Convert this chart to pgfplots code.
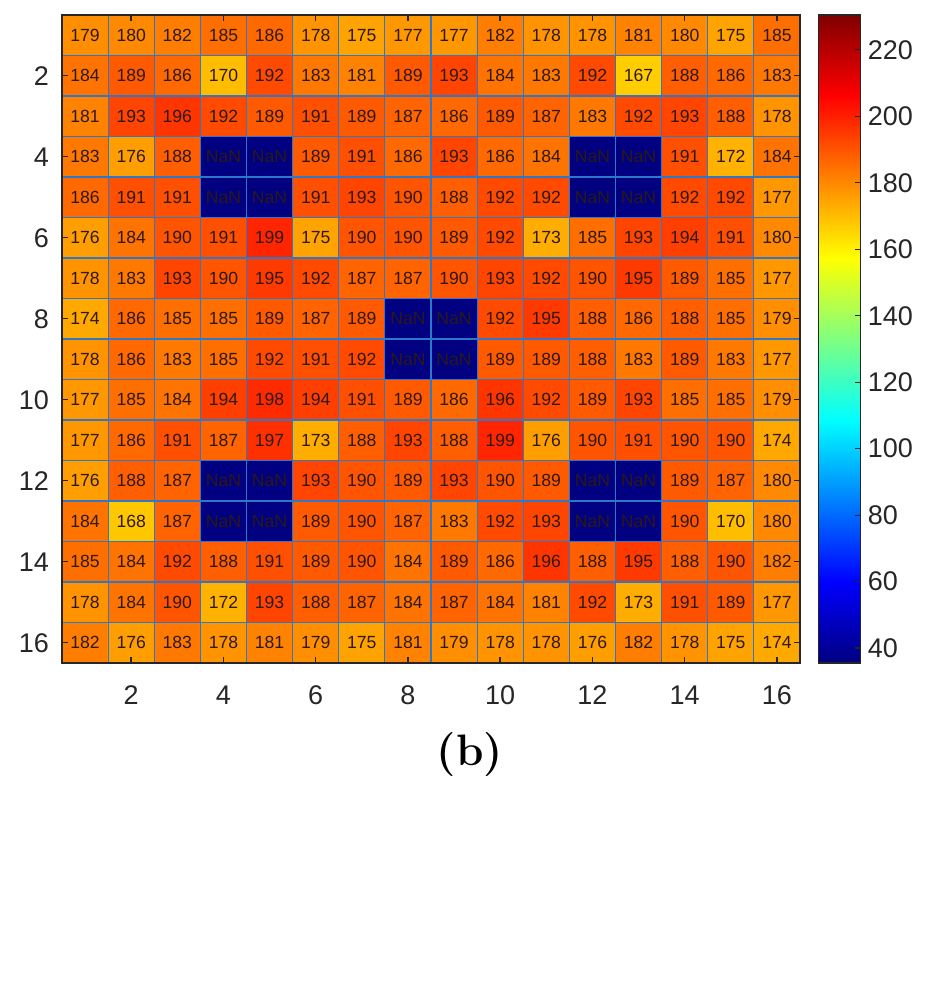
\documentclass[border=0pt]{standalone}
\usepackage{pgfplots}
\pgfplotsset{compat=1.18}
\usepackage{pgfplotstable}
\usepackage{fontspec}
\setsansfont{Liberation Sans}

\definecolor{celledge}{RGB}{45,120,200}
\definecolor{axisgray}{RGB}{38,38,38}
\definecolor{celltext}{RGB}{45,25,20}

% 16 x 16 grid: column x, row y, colour value c, printed text t.
% Missing cells (NaN) sit at the bottom of the colour scale.
\pgfplotstableread[row sep=\\]{
x y c t \\
1 1 179 179 \\ 2 1 180 180 \\ 3 1 182 182 \\ 4 1 185 185 \\ 5 1 186 186 \\ 6 1 178 178 \\ 7 1 175 175 \\ 8 1 177 177 \\ 9 1 177 177 \\ 10 1 182 182 \\ 11 1 178 178 \\ 12 1 178 178 \\ 13 1 181 181 \\ 14 1 180 180 \\ 15 1 175 175 \\ 16 1 185 185 \\
1 2 184 184 \\ 2 2 189 189 \\ 3 2 186 186 \\ 4 2 170 170 \\ 5 2 192 192 \\ 6 2 183 183 \\ 7 2 181 181 \\ 8 2 189 189 \\ 9 2 193 193 \\ 10 2 184 184 \\ 11 2 183 183 \\ 12 2 192 192 \\ 13 2 167 167 \\ 14 2 188 188 \\ 15 2 186 186 \\ 16 2 183 183 \\
1 3 181 181 \\ 2 3 193 193 \\ 3 3 196 196 \\ 4 3 192 192 \\ 5 3 189 189 \\ 6 3 191 191 \\ 7 3 189 189 \\ 8 3 187 187 \\ 9 3 186 186 \\ 10 3 189 189 \\ 11 3 187 187 \\ 12 3 183 183 \\ 13 3 192 192 \\ 14 3 193 193 \\ 15 3 188 188 \\ 16 3 178 178 \\
1 4 183 183 \\ 2 4 176 176 \\ 3 4 188 188 \\ 4 4 35.5 NaN \\ 5 4 35.5 NaN \\ 6 4 189 189 \\ 7 4 191 191 \\ 8 4 186 186 \\ 9 4 193 193 \\ 10 4 186 186 \\ 11 4 184 184 \\ 12 4 35.5 NaN \\ 13 4 35.5 NaN \\ 14 4 191 191 \\ 15 4 172 172 \\ 16 4 184 184 \\
1 5 186 186 \\ 2 5 191 191 \\ 3 5 191 191 \\ 4 5 35.5 NaN \\ 5 5 35.5 NaN \\ 6 5 191 191 \\ 7 5 193 193 \\ 8 5 190 190 \\ 9 5 188 188 \\ 10 5 192 192 \\ 11 5 192 192 \\ 12 5 35.5 NaN \\ 13 5 35.5 NaN \\ 14 5 192 192 \\ 15 5 192 192 \\ 16 5 177 177 \\
1 6 176 176 \\ 2 6 184 184 \\ 3 6 190 190 \\ 4 6 191 191 \\ 5 6 199 199 \\ 6 6 175 175 \\ 7 6 190 190 \\ 8 6 190 190 \\ 9 6 189 189 \\ 10 6 192 192 \\ 11 6 173 173 \\ 12 6 185 185 \\ 13 6 193 193 \\ 14 6 194 194 \\ 15 6 191 191 \\ 16 6 180 180 \\
1 7 178 178 \\ 2 7 183 183 \\ 3 7 193 193 \\ 4 7 190 190 \\ 5 7 195 195 \\ 6 7 192 192 \\ 7 7 187 187 \\ 8 7 187 187 \\ 9 7 190 190 \\ 10 7 193 193 \\ 11 7 192 192 \\ 12 7 190 190 \\ 13 7 195 195 \\ 14 7 189 189 \\ 15 7 185 185 \\ 16 7 177 177 \\
1 8 174 174 \\ 2 8 186 186 \\ 3 8 185 185 \\ 4 8 185 185 \\ 5 8 189 189 \\ 6 8 187 187 \\ 7 8 189 189 \\ 8 8 35.5 NaN \\ 9 8 35.5 NaN \\ 10 8 192 192 \\ 11 8 195 195 \\ 12 8 188 188 \\ 13 8 186 186 \\ 14 8 188 188 \\ 15 8 185 185 \\ 16 8 179 179 \\
1 9 178 178 \\ 2 9 186 186 \\ 3 9 183 183 \\ 4 9 185 185 \\ 5 9 192 192 \\ 6 9 191 191 \\ 7 9 192 192 \\ 8 9 35.5 NaN \\ 9 9 35.5 NaN \\ 10 9 189 189 \\ 11 9 189 189 \\ 12 9 188 188 \\ 13 9 183 183 \\ 14 9 189 189 \\ 15 9 183 183 \\ 16 9 177 177 \\
1 10 177 177 \\ 2 10 185 185 \\ 3 10 184 184 \\ 4 10 194 194 \\ 5 10 198 198 \\ 6 10 194 194 \\ 7 10 191 191 \\ 8 10 189 189 \\ 9 10 186 186 \\ 10 10 196 196 \\ 11 10 192 192 \\ 12 10 189 189 \\ 13 10 193 193 \\ 14 10 185 185 \\ 15 10 185 185 \\ 16 10 179 179 \\
1 11 177 177 \\ 2 11 186 186 \\ 3 11 191 191 \\ 4 11 187 187 \\ 5 11 197 197 \\ 6 11 173 173 \\ 7 11 188 188 \\ 8 11 193 193 \\ 9 11 188 188 \\ 10 11 199 199 \\ 11 11 176 176 \\ 12 11 190 190 \\ 13 11 191 191 \\ 14 11 190 190 \\ 15 11 190 190 \\ 16 11 174 174 \\
1 12 176 176 \\ 2 12 188 188 \\ 3 12 187 187 \\ 4 12 35.5 NaN \\ 5 12 35.5 NaN \\ 6 12 193 193 \\ 7 12 190 190 \\ 8 12 189 189 \\ 9 12 193 193 \\ 10 12 190 190 \\ 11 12 189 189 \\ 12 12 35.5 NaN \\ 13 12 35.5 NaN \\ 14 12 189 189 \\ 15 12 187 187 \\ 16 12 180 180 \\
1 13 184 184 \\ 2 13 168 168 \\ 3 13 187 187 \\ 4 13 35.5 NaN \\ 5 13 35.5 NaN \\ 6 13 189 189 \\ 7 13 190 190 \\ 8 13 187 187 \\ 9 13 183 183 \\ 10 13 192 192 \\ 11 13 193 193 \\ 12 13 35.5 NaN \\ 13 13 35.5 NaN \\ 14 13 190 190 \\ 15 13 170 170 \\ 16 13 180 180 \\
1 14 185 185 \\ 2 14 184 184 \\ 3 14 192 192 \\ 4 14 188 188 \\ 5 14 191 191 \\ 6 14 189 189 \\ 7 14 190 190 \\ 8 14 184 184 \\ 9 14 189 189 \\ 10 14 186 186 \\ 11 14 196 196 \\ 12 14 188 188 \\ 13 14 195 195 \\ 14 14 188 188 \\ 15 14 190 190 \\ 16 14 182 182 \\
1 15 178 178 \\ 2 15 184 184 \\ 3 15 190 190 \\ 4 15 172 172 \\ 5 15 193 193 \\ 6 15 188 188 \\ 7 15 187 187 \\ 8 15 184 184 \\ 9 15 187 187 \\ 10 15 184 184 \\ 11 15 181 181 \\ 12 15 192 192 \\ 13 15 173 173 \\ 14 15 191 191 \\ 15 15 189 189 \\ 16 15 177 177 \\
1 16 182 182 \\ 2 16 176 176 \\ 3 16 183 183 \\ 4 16 178 178 \\ 5 16 181 181 \\ 6 16 179 179 \\ 7 16 175 175 \\ 8 16 181 181 \\ 9 16 179 179 \\ 10 16 178 178 \\ 11 16 178 178 \\ 12 16 176 176 \\ 13 16 182 182 \\ 14 16 178 178 \\ 15 16 175 175 \\ 16 16 174 174 \\
}\gridtable

\begin{document}
\begin{tikzpicture}
\path[use as bounding box] (-31pt,-165.5pt) rectangle (438pt,331.5pt);
\begin{axis}[
  at={(0,0)}, anchor=south west,
  scale only axis, width=369pt, height=324pt,
  xmin=0.5, xmax=16.5, ymin=0.5, ymax=16.5, y dir=reverse,
  xtick={2,4,...,16}, ytick={2,4,...,16},
  minor xtick={0.5,1.5,...,16.5}, minor ytick={0.5,1.5,...,16.5},
  xminorgrids, yminorgrids,
  minor grid style={celledge, line width=0.6pt},
  minor tick length=0pt, major tick length=3pt,
  tick align=inside,
  axis line style={axisgray, line width=0.7pt},
  major tick style={axisgray, line width=0.7pt},
  ticklabel style={font=\sffamily\fontsize{13.5}{15}\selectfont, text=axisgray},
  xticklabel style={yshift=-8pt},
  yticklabel style={xshift=-3pt},
  /pgf/number format/assume math mode=true,
  axis on top,
  colormap/jet,
  point meta min=35.5, point meta max=230.5,
  colorbar,
  colorbar/width=21pt,
  colorbar shift/.style={xshift=9pt},
  colorbar style={
    ytick={40,60,...,220},
    ytick pos=right, tick align=inside,
    major tick length=3pt,
    axis line style={axisgray, line width=0.6pt},
    major tick style={axisgray, line width=0.6pt},
    yticklabel style={font=\sffamily\fontsize{13.5}{15}\selectfont, text=axisgray, xshift=0pt},
    /pgf/number format/assume math mode=true,
  },
]
\addplot[matrix plot*, mesh/cols=16, point meta=explicit]
  table[x=x, y=y, meta=c] {\gridtable};
\addplot[draw=none, mark=none, nodes near coords,
  point meta=explicit symbolic,
  nodes near coords style={anchor=center, inner sep=0pt,
    font=\sffamily\fontsize{8.8}{10}\selectfont, text=celltext}]
  table[x=x, y=y, meta=t] {\gridtable};
\end{axis}
\node[anchor=base, font=\bfseries\fontsize{22}{26}\selectfont] at (204pt,-51pt) {(b)};
\end{tikzpicture}
\end{document}
